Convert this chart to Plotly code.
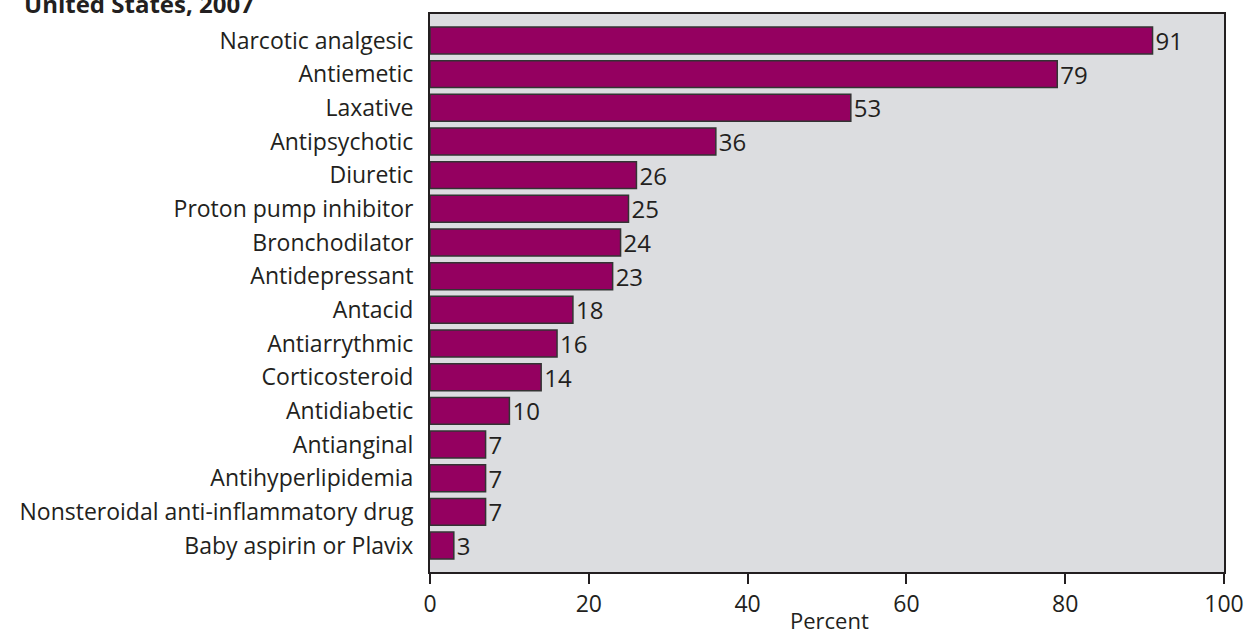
import plotly.graph_objects as go

# Drug classes, in order from top to bottom
categories = [
    "Narcotic analgesic", "Antiemetic", "Laxative", "Antipsychotic", "Diuretic",
    "Proton pump inhibitor", "Bronchodilator", "Antidepressant", "Antacid",
    "Antiarrythmic", "Corticosteroid", "Antidiabetic", "Antianginal",
    "Antihyperlipidemia", "Nonsteroidal anti-inflammatory drug", "Baby aspirin or Plavix",
]
percent = [91, 79, 53, 36, 26, 25, 24, 23, 18, 16, 14, 10, 7, 7, 7, 3]

x_ticks = [0, 20, 40, 60, 80, 100]

FONT = "Open Sans"
TEXT_COLOR = "#231f20"

W, H = 1245, 635
M_L, M_R, M_T, M_B = 430, 21, 14, 63
PLOT_W = W - M_L - M_R
PLOT_H = H - M_T - M_B

fig = go.Figure(
    go.Bar(
        x=percent,
        y=categories,
        orientation="h",
        marker=dict(color="#940060", line=dict(color="#333333", width=1.5)),
        width=0.8,
        text=[str(v) for v in percent],
        textposition="outside",
        constraintext="none",
        textfont=dict(family=FONT, size=24, color=TEXT_COLOR),
        cliponaxis=False,
    )
)

fig.update_layout(
    width=W,
    height=H,
    margin=dict(l=M_L, r=M_R, t=M_T, b=M_B, autoexpand=False),
    paper_bgcolor="white",
    plot_bgcolor="#dcdde0",
    font=dict(family=FONT, size=23, color=TEXT_COLOR),
    showlegend=False,
    xaxis=dict(
        range=[0, 100],
        tickvals=x_ticks,
        ticktext=[str(t) for t in x_ticks],
        ticks="outside",
        ticklen=10,
        tickwidth=2,
        tickcolor=TEXT_COLOR,
        showline=True,
        linewidth=2,
        linecolor=TEXT_COLOR,
        mirror=True,
        showgrid=False,
        zeroline=False,
        automargin=False,
        tickfont=dict(size=23),
        fixedrange=True,
    ),
    yaxis=dict(
        categoryorder="array",
        categoryarray=categories,
        autorange=False,
        range=[15.785, -0.785],
        showline=True,
        linewidth=2,
        linecolor=TEXT_COLOR,
        mirror=True,
        showgrid=False,
        zeroline=False,
        automargin=False,
        ticks="",
        ticklabelstandoff=10,
        tickfont=dict(size=23),
        fixedrange=True,
    ),
    annotations=[
        # Heading line, partly above the top edge of the page
        dict(
            text="<b>United States, 2007</b>",
            xref="paper", yref="paper",
            x=-M_L / PLOT_W, y=1 + (M_T - 3.6) / PLOT_H,
            xanchor="left", yanchor="middle",
            xshift=22,
            showarrow=False,
            font=dict(family=FONT, size=24, color=TEXT_COLOR),
        ),
        # x-axis title
        dict(
            text="Percent",
            xref="paper", yref="paper",
            x=0.5, y=-(620 - (M_T + PLOT_H)) / PLOT_H,
            xanchor="center", yanchor="middle",
            xshift=2,
            showarrow=False,
            font=dict(family=FONT, size=22, color=TEXT_COLOR),
        ),
    ],
)

fig.write_html("out.html", post_script="document.body.style.margin='0px';")
